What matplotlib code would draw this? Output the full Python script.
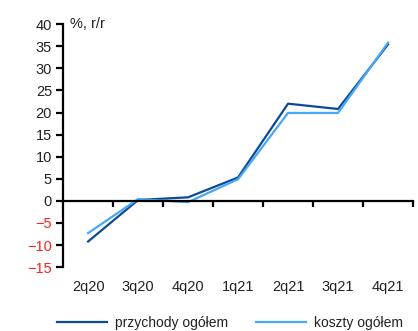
import matplotlib
matplotlib.use("Agg")
import matplotlib.pyplot as plt

quarters = ["2q20", "3q20", "4q20", "1q21", "2q21", "3q21", "4q21"]
przychody = [-9.2, 0.2, 0.8, 5.3, 22.0, 20.8, 35.4]
koszty = [-7.3, 0.4, -0.3, 4.9, 19.9, 19.9, 35.8]
yticks = [-15, -10, -5, 0, 5, 10, 15, 20, 25, 30, 35, 40]

dark = "#0b4a98"
light = "#49a7f5"

plt.rcParams["font.family"] = ["Liberation Sans", "DejaVu Sans"]
plt.rcParams["font.size"] = 10.5

fig = plt.figure(figsize=(4.18, 3.31), dpi=100)
ax = fig.add_axes([0.151, 0.193, 0.837, 0.734])

x = list(range(len(quarters)))
ax.plot(x, przychody, color=dark, lw=1.6, label="przychody ogółem")
ax.plot(x, koszty, color=light, lw=1.6, label="koszty ogółem")

ax.set_xlim(-0.5, len(quarters) - 0.5)
ax.set_ylim(-15, 40)
ax.set_yticks(yticks)
for t, v in zip(ax.get_yticklabels(), yticks):
    t.set_color("#ff2020" if v < 0 else "#222222")

for s in ["top", "right"]:
    ax.spines[s].set_visible(False)
ax.spines["left"].set_linewidth(1.6)
ax.spines["bottom"].set_position(("data", 0))
ax.spines["bottom"].set_linewidth(1.6)

ax.tick_params(axis="y", direction="out", length=5, width=1.6, pad=3)
# category labels below the plot, boundary ticks on the zero line
ax.set_xticks(x)
ax.set_xticklabels(quarters)
ax.tick_params(axis="x", which="major", length=0, pad=57, colors="#222222")
ax.set_xticks([i + 0.5 for i in x], minor=True)
ax.tick_params(axis="x", which="minor", direction="out", length=4, width=1.6)

ax.text(0.02, 1.0, "%, r/r", transform=ax.transAxes, ha="left", va="center",
        color="#222222")

leg = fig.legend(loc="lower center", bbox_to_anchor=(0.55, -0.035), ncol=2,
                 frameon=False, handlelength=3.6, columnspacing=2.0,
                 handletextpad=0.6, fontsize=10)
for t in leg.get_texts():
    t.set_color("#222222")

fig.savefig("out.png", dpi=100)
